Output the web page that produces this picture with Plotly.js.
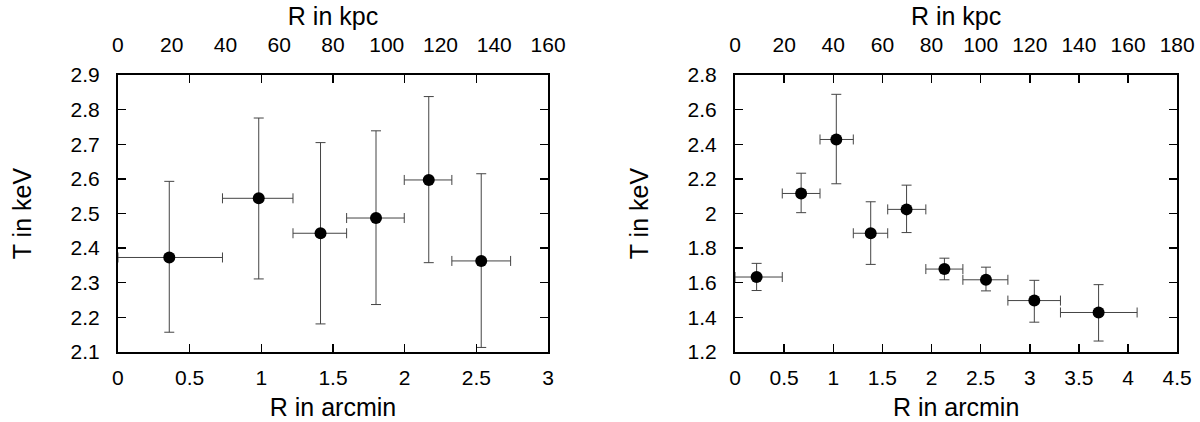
<!DOCTYPE html>
<html>
<head>
<meta charset="utf-8">
<script src="https://cdn.plot.ly/plotly-3.0.1.min.js"></script>
<style>
  html, body { margin: 0; padding: 0; background: #fff; }
  #chart { width: 1200px; height: 422px; }
</style>
</head>
<body>
<div id="chart"></div>
<script>
// left cluster: radius bins (arcmin) and temperatures (keV)
const leftR = [0.358, 0.982, 1.413, 1.800, 2.168, 2.534];
const leftRlo = [0.0, 0.729, 1.221, 1.595, 1.997, 2.329];
const leftRhi = [0.729, 1.221, 1.595, 1.997, 2.329, 2.739];
const leftT = [2.373, 2.544, 2.443, 2.487, 2.597, 2.363];
const leftTlo = [2.157, 2.311, 2.181, 2.237, 2.358, 2.113];
const leftThi = [2.593, 2.776, 2.705, 2.739, 2.838, 2.615];

// right cluster
const rightR = [0.22, 0.673, 1.031, 1.381, 1.746, 2.131, 2.554, 3.046, 3.700];
const rightRlo = [0.0, 0.481, 0.865, 1.204, 1.554, 1.942, 2.319, 2.777, 3.312];
const rightRhi = [0.481, 0.865, 1.204, 1.554, 1.942, 2.319, 2.777, 3.312, 4.092];
const rightT = [1.633, 2.116, 2.428, 1.886, 2.024, 1.679, 1.617, 1.497, 1.428];
const rightTlo = [1.555, 2.005, 2.172, 1.706, 1.890, 1.617, 1.553, 1.372, 1.263];
const rightThi = [1.712, 2.233, 2.689, 2.068, 2.164, 1.742, 1.690, 1.614, 1.589];

const font = 'Liberation Sans, Arial, sans-serif';
const tickSize = 21;
const titleSize = 25;

function profile(r, rlo, rhi, t, tlo, thi, xa, ya) {
  const errStyle = { color: '#444', thickness: 1, width: 5 };
  return {
    type: 'scatter',
    mode: 'markers',
    x: r,
    y: t,
    xaxis: xa,
    yaxis: ya,
    marker: { color: '#000', size: 12 },
    error_x: { type: 'data', symmetric: false,
      array: r.map((v, i) => rhi[i] - v), arrayminus: r.map((v, i) => v - rlo[i]), ...errStyle },
    error_y: { type: 'data', symmetric: false,
      array: t.map((v, i) => thi[i] - v), arrayminus: t.map((v, i) => v - tlo[i]), ...errStyle },
    showlegend: false,
    hoverinfo: 'x+y'
  };
}

// empty trace so the kpc axis on top gets drawn
function kpcHolder(xa, ya) {
  return { type: 'scatter', mode: 'markers', x: [], y: [], xaxis: xa, yaxis: ya, showlegend: false };
}

function bottomAxis(domain, range, anchor) {
  return {
    domain, range, anchor, dtick: 0.5, tick0: 0,
    ticks: 'inside', ticklen: 8, tickwidth: 1.5, tickcolor: '#000',
    showline: true, linewidth: 2, linecolor: '#000', mirror: 'ticks',
    showgrid: false, zeroline: false, ticklabelstandoff: 6,
    tickfont: { family: font, size: tickSize, color: '#000' },
    title: { text: 'R in arcmin', font: { family: font, size: titleSize, color: '#000' }, standoff: 10 }
  };
}

function topAxis(over, anchor, range) {
  return {
    overlaying: over, anchor, side: 'top', range, dtick: 20, tick0: 0,
    ticks: '', showline: false, showgrid: false, zeroline: false, ticklabelstandoff: 18,
    tickfont: { family: font, size: tickSize, color: '#000' },
    title: { text: 'R in kpc', font: { family: font, size: titleSize, color: '#000' }, standoff: 0 }
  };
}

function leftAxis(domain, range, dtick, anchor) {
  return {
    domain, range, dtick, anchor,
    ticks: 'inside', ticklen: 8, tickwidth: 1.5, tickcolor: '#000',
    showline: true, linewidth: 2, linecolor: '#000', mirror: 'ticks',
    showgrid: false, zeroline: false, ticklabelstandoff: 12,
    tickfont: { family: font, size: tickSize, color: '#000' },
    title: { text: 'T in keV', font: { family: font, size: titleSize, color: '#000' }, standoff: 32 }
  };
}

const yDom = [0.166, 0.822];

Plotly.newPlot('chart', [
  profile(leftR, leftRlo, leftRhi, leftT, leftTlo, leftThi, 'x', 'y'),
  kpcHolder('x2', 'y'),
  profile(rightR, rightRlo, rightRhi, rightT, rightTlo, rightThi, 'x3', 'y2'),
  kpcHolder('x4', 'y2')
], {
  width: 1200,
  height: 422,
  margin: { l: 0, r: 0, t: 0, b: 0 },
  paper_bgcolor: '#fff',
  plot_bgcolor: '#fff',
  font: { family: font, color: '#000' },
  xaxis: bottomAxis([0.0983, 0.4567], [0, 3], 'y'),
  xaxis2: topAxis('x', 'y', [0, 160]),
  yaxis: leftAxis(yDom, [2.1, 2.9], 0.1, 'x'),
  xaxis3: bottomAxis([0.6125, 0.981], [0, 4.5], 'y2'),
  xaxis4: topAxis('x3', 'y2', [0, 180]),
  yaxis2: leftAxis(yDom, [1.2, 2.8], 0.2, 'x3')
}, { displayModeBar: false, staticPlot: true });
</script>
</body>
</html>
